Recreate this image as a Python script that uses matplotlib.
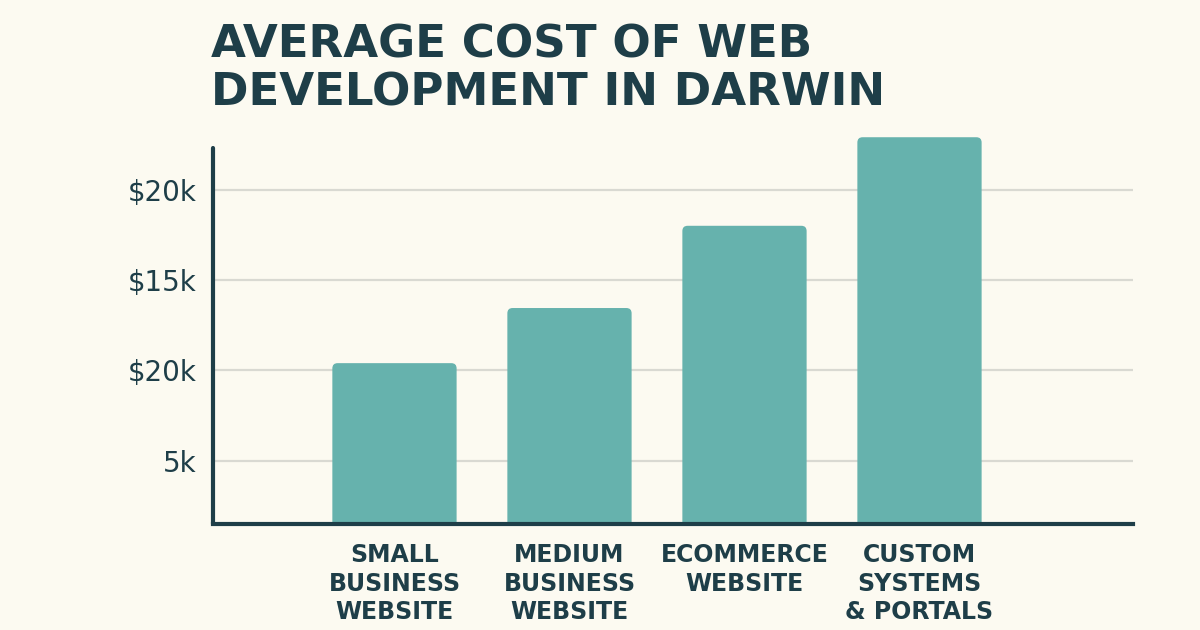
import matplotlib
matplotlib.use("Agg")
import matplotlib.pyplot as plt
from matplotlib.patches import FancyBboxPatch

categories = ["SMALL\nBUSINESS\nWEBSITE", "MEDIUM\nBUSINESS\nWEBSITE",
              "ECOMMERCE\nWEBSITE", "CUSTOM\nSYSTEMS\n& PORTALS"]
values_k = [10.4, 13.45, 18.0, 22.9]
tick_values = [5, 10, 15, 20]
tick_labels = ["5k", "$20k", "$15k", "$20k"]
title = "AVERAGE COST OF WEB\nDEVELOPMENT IN DARWIN"

BG = "#fcfaf1"
BAR = "#66b2ad"
DARK = "#1e3e48"
GRID = "#d9d9d2"

fig = plt.figure(figsize=(12, 6.3), dpi=100, facecolor=BG)
ax = fig.add_axes([213/1200, 1-524/630, (1133-213)/1200, (524-130)/630])
ax.set_facecolor(BG)

x = list(range(len(categories)))
bars = ax.bar(x, [v + 1.5 for v in values_k], bottom=0, width=0.71, color=BAR, zorder=2)
# replace with rounded-top bars
for b, v in zip(bars, values_k):
    b.set_visible(False)
    p = FancyBboxPatch((b.get_x(), 0), b.get_width(), v,
                       boxstyle="round,pad=0,rounding_size=0.03",
                       mutation_aspect=9.7, facecolor=BAR, edgecolor="none",
                       zorder=2, clip_on=True)
    ax.add_patch(p)

ax.set_xlim(-1.037, 4.22)
ax.set_ylim(1.5, 23.3)

ax.set_yticks(tick_values)
ax.set_yticklabels(tick_labels, fontsize=20, color=DARK, family="DejaVu Sans")
ax.yaxis.grid(True, color=GRID, linewidth=1.6, zorder=0)
ax.set_axisbelow(True)
ax.tick_params(axis="y", length=0, pad=12)

ax.set_xticks(x)
ax.set_xticklabels(categories, fontsize=17, fontweight="bold", color=DARK,
                   family="DejaVu Sans", linespacing=1.22)
ax.tick_params(axis="x", length=0, pad=14)

for s in ["top", "right"]:
    ax.spines[s].set_visible(False)
ax.spines["left"].set_bounds(1.5, 22.3)
ax.spines["left"].set_linewidth(3)
ax.spines["left"].set_color(DARK)
ax.spines["bottom"].set_linewidth(3)
ax.spines["bottom"].set_color(DARK)
ax.spines["left"].set_capstyle("round")

fig.text(211/1200, 1-23/630, title, ha="left", va="top", fontsize=32.5,
         fontweight="bold", color=DARK, family="DejaVu Sans", linespacing=1.16)

fig.savefig("out.png", dpi=100, facecolor=BG)
